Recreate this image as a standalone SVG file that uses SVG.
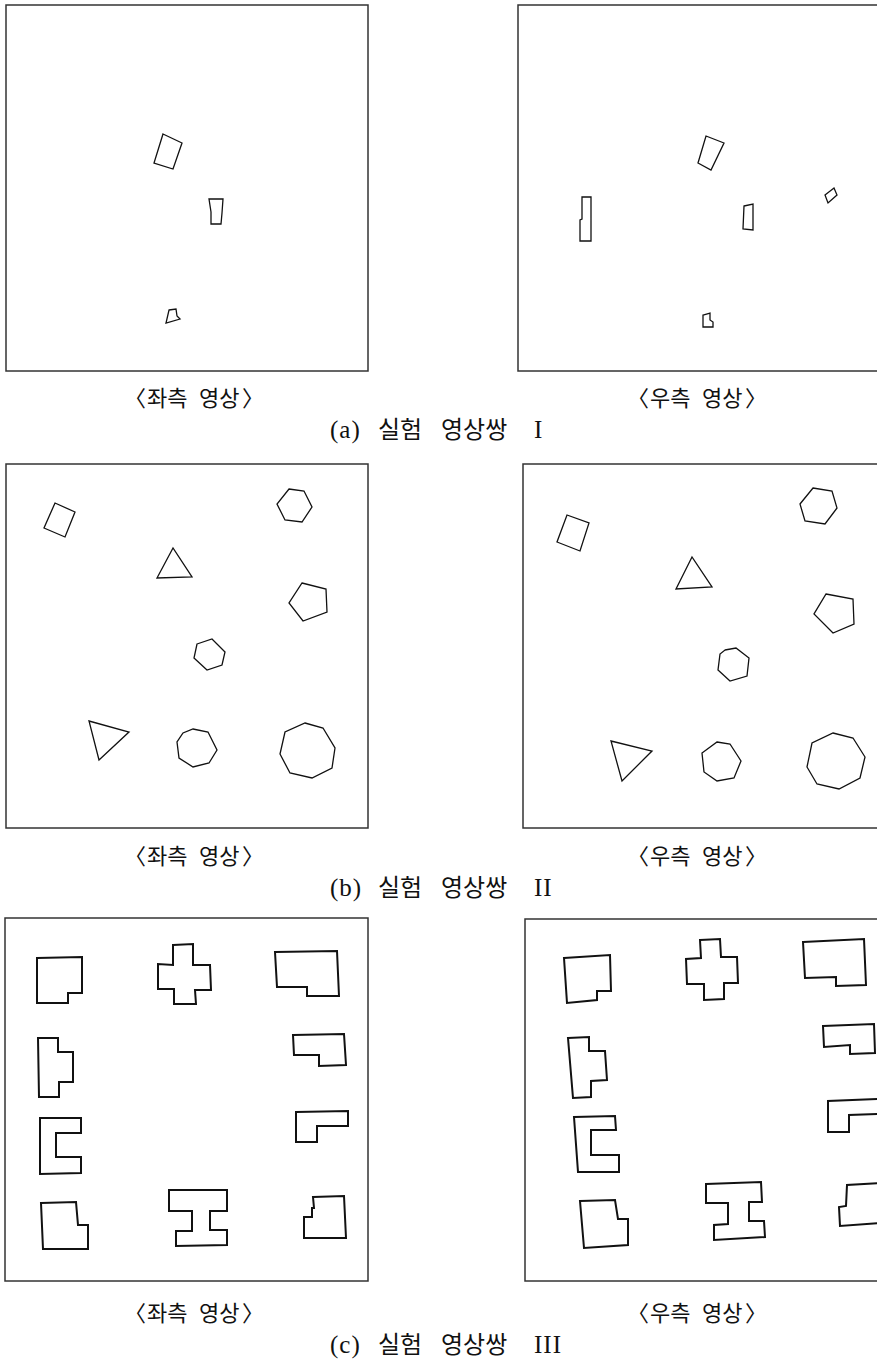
<svg xmlns="http://www.w3.org/2000/svg" width="877" height="1359" viewBox="0 0 877 1359">
<style>
.frame{fill:none;stroke:#333;stroke-width:1.5}
.s{fill:none;stroke:#111;stroke-width:1.3;stroke-linejoin:miter}
.t{fill:none;stroke:#111;stroke-width:2;stroke-linejoin:miter}
.k{font-family:"Noto Sans CJK KR",sans-serif;fill:#111}
.lb{font-size:22px}
.cp{font-size:24px}
.lat{font-family:"Liberation Serif","Noto Sans CJK KR",serif;fill:#111;font-size:25px;letter-spacing:1px}
</style>
<rect width="877" height="1359" fill="#fff"/>

<!-- (a) -->
<g id="a-left">
<rect class="frame" x="6" y="5" width="362" height="366"/>
<polygon class="s" points="163,134 182,143 173,169 154,163"/>
<polygon class="s" points="209,199 223,199 222,213 221,224 211,224 211,212"/>
<polygon class="s" points="169,310 176,309 177,316 180,319 166,323"/>
</g>
<g id="a-right">
<rect class="frame" x="518" y="5" width="370" height="366"/>
<polygon class="s" points="706,136 724,143 711,170 698,163"/>
<polygon class="s" points="582,197 591,197 591,241 580,241 580,220 582,219"/>
<polygon class="s" points="744,206 753,204 753,230 743,229"/>
<polygon class="s" points="825,195 834,188 837,195 828,203"/>
<polygon class="s" points="703,315 710,313 710,320 713,322 713,327 703,327"/>
</g>
<g id="a-labels">
<text class="k lb" y="406"><tspan x="124">〈</tspan><tspan x="147">좌측</tspan><tspan x="199">영상</tspan><tspan x="242">〉</tspan></text>
<text class="k lb" y="406"><tspan x="627">〈</tspan><tspan x="650">우측</tspan><tspan x="702">영상</tspan><tspan x="745">〉</tspan></text>
<text class="lat" x="330" y="438">(a)</text>
<text class="k cp" y="438"><tspan x="378">실험</tspan><tspan x="441">영상쌍</tspan></text>
<text class="lat" x="534" y="438">I</text>
</g>

<!-- (b) -->
<g id="b-left">
<rect class="frame" x="6" y="464" width="362" height="364"/>
<polygon class="s" points="55,503 75,512 65,537 44,528"/>
<polygon class="s" points="173,548 157,578 192,577"/>
<polygon class="s" points="289,489 304,491 312,507 302,522 285,520 277,504"/>
<polygon class="s" points="302,583 326,589 327,612 303,621 289,603"/>
<polygon class="s" points="197,644 212,639 225,652 222,665 207,670 194,658"/>
<polygon class="s" points="89,721 129,732 99,760"/>
<polygon class="s" points="193,729 208,732 217,750 209,763 193,767 179,758 177,742 183,733"/>
<polygon class="s" points="305,723 323,728 335,748 332,768 312,778 290,773 280,754 285,732"/>
</g>
<g id="b-right">
<rect class="frame" x="523" y="464" width="365" height="364"/>
<polygon class="s" points="567,515 589,523 580,551 557,542"/>
<polygon class="s" points="692,557 676,589 712,587"/>
<polygon class="s" points="813,488 832,491 837,508 825,524 805,521 800,504"/>
<polygon class="s" points="826,594 853,599 854,624 833,633 814,614"/>
<polygon class="s" points="725,650 736,648 749,658 747,676 730,681 718,670 720,654"/>
<polygon class="s" points="611,741 652,751 622,781"/>
<polygon class="s" points="717,742 730,744 741,761 734,778 717,781 704,772 702,753"/>
<polygon class="s" points="833,733 853,738 865,757 860,778 839,789 817,784 807,767 812,743"/>
</g>
<g id="b-labels">
<text class="k lb" y="864"><tspan x="124">〈</tspan><tspan x="147">좌측</tspan><tspan x="199">영상</tspan><tspan x="242">〉</tspan></text>
<text class="k lb" y="864"><tspan x="627">〈</tspan><tspan x="650">우측</tspan><tspan x="702">영상</tspan><tspan x="745">〉</tspan></text>
<text class="lat" x="330" y="896">(b)</text>
<text class="k cp" y="896"><tspan x="378">실험</tspan><tspan x="441">영상쌍</tspan></text>
<text class="lat" x="534" y="896">II</text>
</g>

<!-- (c) -->
<g id="c-left">
<rect class="frame" x="5" y="918" width="363" height="363"/>
<polygon class="t" points="37,958 82,957 82,993 68,993 68,1003 37,1003"/>
<polygon class="t" points="173,945 193,944 193,965 210,965 211,990 195,990 196,1004 174,1004 174,989 158,989 158,964 173,965"/>
<polygon class="t" points="275,952 337,951 339,996 307,996 307,987 277,987"/>
<polygon class="t" points="38,1038 58,1038 58,1052 73,1052 73,1082 59,1082 59,1097 39,1097"/>
<polygon class="t" points="293,1035 344,1034 346,1065 319,1066 319,1055 294,1055"/>
<polygon class="t" points="40,1118 81,1118 81,1133 56,1133 56,1157 81,1157 81,1173 40,1174"/>
<polygon class="t" points="296,1112 348,1111 348,1126 317,1126 317,1142 296,1142"/>
<polygon class="t" points="41,1203 76,1202 78,1225 88,1225 88,1249 43,1249"/>
<polygon class="t" points="169,1190 227,1190 227,1211 210,1211 210,1230 227,1230 227,1245 176,1246 176,1231 192,1231 192,1211 169,1211"/>
<polygon class="t" points="313,1197 344,1196 346,1238 304,1238 304,1217 312,1217 312,1208 314,1208"/>
</g>
<g id="c-right">
<rect class="frame" x="525" y="919" width="363" height="362"/>
<polygon class="t" points="564,958 610,955 611,991 597,991 597,1000 567,1003"/>
<polygon class="t" points="700,940 720,939 721,957 737,957 738,983 724,983 724,999 704,1000 704,984 687,984 686,959 701,958"/>
<polygon class="t" points="803,942 864,939 866,985 836,986 836,977 805,978"/>
<polygon class="t" points="568,1038 589,1037 589,1051 605,1051 607,1080 591,1081 591,1097 573,1098"/>
<polygon class="t" points="823,1026 874,1024 875,1053 850,1054 850,1045 824,1047"/>
<polygon class="t" points="574,1117 615,1116 616,1130 591,1130 591,1155 619,1155 619,1172 578,1172"/>
<polyline class="t" points="880,1099 828,1101 828,1132 849,1132 849,1115 880,1114"/>
<polygon class="t" points="580,1201 615,1200 618,1219 628,1219 628,1245 584,1248"/>
<polygon class="t" points="706,1184 761,1182 762,1202 749,1202 749,1221 764,1221 765,1237 714,1240 714,1225 728,1224 728,1203 706,1203"/>
<polyline class="t" points="880,1183 847,1185 846,1206 839,1207 840,1226 880,1223"/>
</g>
<g id="c-labels">
<text class="k lb" y="1321"><tspan x="124">〈</tspan><tspan x="147">좌측</tspan><tspan x="199">영상</tspan><tspan x="242">〉</tspan></text>
<text class="k lb" y="1321"><tspan x="627">〈</tspan><tspan x="650">우측</tspan><tspan x="702">영상</tspan><tspan x="745">〉</tspan></text>
<text class="lat" x="330" y="1353">(c)</text>
<text class="k cp" y="1353"><tspan x="378">실험</tspan><tspan x="441">영상쌍</tspan></text>
<text class="lat" x="534" y="1353">III</text>
</g>
</svg>
